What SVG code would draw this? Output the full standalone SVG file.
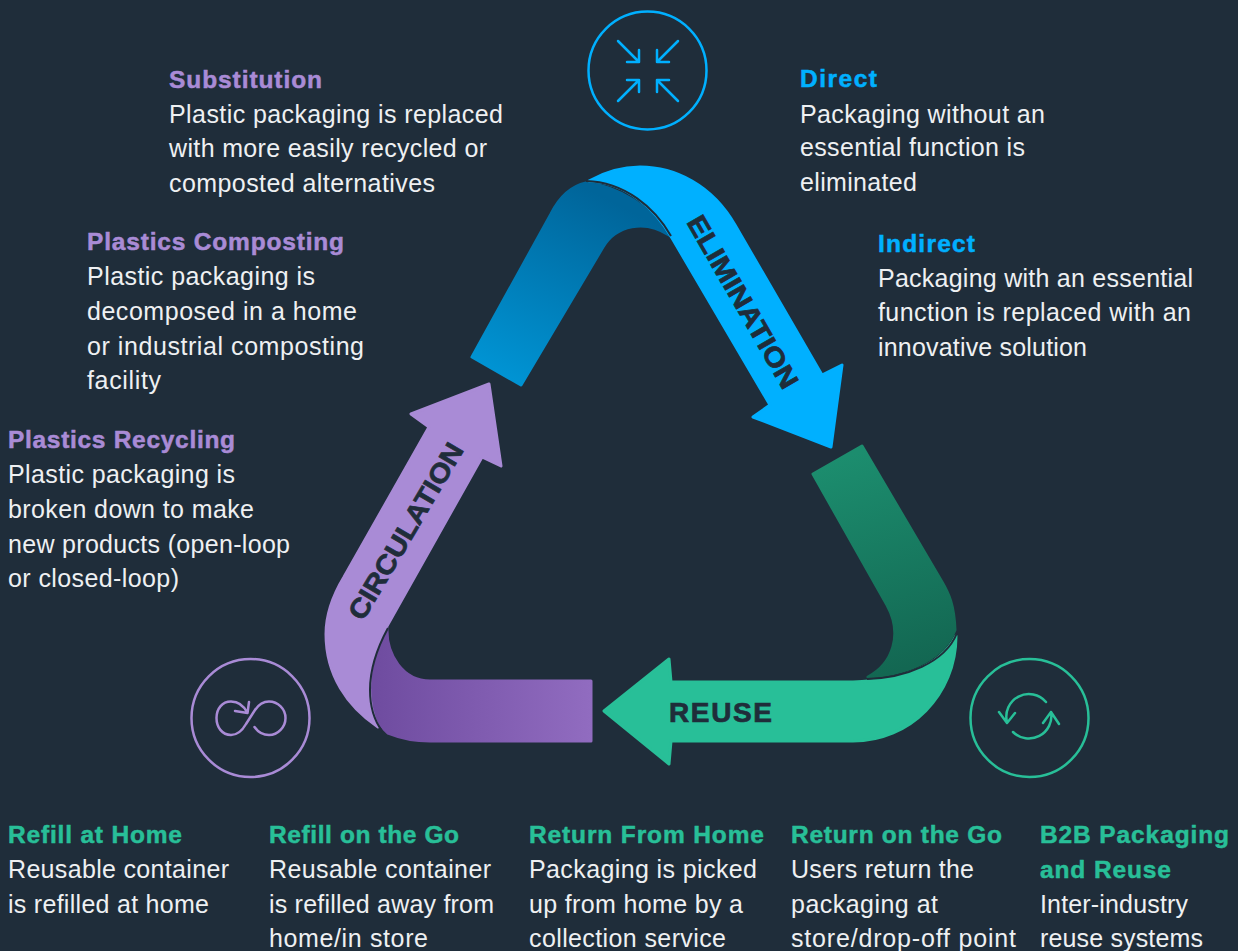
<svg xmlns="http://www.w3.org/2000/svg" width="1238" height="951" viewBox="0 0 1238 951">
<style>
.t{font-family:"Liberation Sans",Arial,sans-serif;font-size:25px;fill:#eef0f2}
.h{font-family:"Liberation Sans",Arial,sans-serif;font-size:24.500px;font-weight:700;stroke-width:.5px}
.p{fill:#a98bd6;stroke:#a98bd6}.b{fill:#00b0ff;stroke:#00b0ff}.g{fill:#28bf98;stroke:#28bf98}
.a{font-family:"Liberation Sans",Arial,sans-serif;font-size:27px;font-weight:700;fill:#1f2d3a;stroke:#1f2d3a;stroke-width:.7px}
.ic{fill:none;stroke-width:2.5;stroke-linecap:round;stroke-linejoin:round}
.ps{stroke:#a98bd6}.bs{stroke:#00b0ff}.gs{stroke:#28bf98}
.sh{stroke-width:3;stroke-linejoin:round}
.sep{fill:none;stroke:#1f2d3a;stroke-width:2}
</style>
<defs>
<linearGradient id="gb" gradientUnits="userSpaceOnUse" x1="590" y1="190" x2="495" y2="375"><stop offset="0" stop-color="#00659a"/><stop offset="1" stop-color="#0094d4"/></linearGradient>
<linearGradient id="gg" gradientUnits="userSpaceOnUse" x1="900" y1="670" x2="835" y2="460"><stop offset="0" stop-color="#136752"/><stop offset="1" stop-color="#1c8d6e"/></linearGradient>
<linearGradient id="gp" gradientUnits="userSpaceOnUse" x1="375" y1="710" x2="592" y2="710"><stop offset="0" stop-color="#6f4ca0"/><stop offset="1" stop-color="#916cc0"/></linearGradient>
</defs>
<rect width="1238" height="951" fill="#1f2d3a"/>
<g id="connectors">
<g id="elimination-arrow">
<path class="sh" fill="url(#gb)" stroke="url(#gb)" d="M586 183C577 185 562 192 551 214L472 357L521 385L603 247C616 225 645 219 669 235C650 208 622 187 586 183Z"/>
<path class="b sh" d="M589 181C605 172 622 167 640 167C675 167 712 185 735 225L822 375L842 365L831 447L753 417L770 405L672 238C655 208 625 182 589 181Z"/>
<path class="sep" d="M586 181C625 182 655 208 671 236"/>
</g>
<g id="reuse-arrow">
<path class="sh" fill="url(#gg)" stroke="url(#gg)" d="M862 446L813 474L887 605C903 634 893 664 868 677C915 674 945 655 955 630C954 605 949 594 942 582Z"/>
<path class="g sh" d="M956 636C956 695 910 741 853 741L671 741L669 764L604 711L669 659L671 682L853 682C900 681 940 667 956 636Z"/>
<path class="sep" d="M867 679C905 678 945 663 957 633"/>
</g>
<g id="circulation-arrow">
<path class="sh" fill="url(#gp)" stroke="url(#gp)" d="M387 628C386 655 403 681 430 681L591 681L591 741L430 741C412 741 398 737 388 733C375 722 370 703 371 688C373 665 379 645 387 628Z"/>
<path class="p sh" d="M489 384L411 414L429 427L344 577C332 597 326 615 326 634C326 675 347 706 378 727C370 710 367 690 372 665C375 650 381 638 387 626L482 457L501 466Z"/>
<path class="sep" d="M388 628C376 650 370 672 370 690C370 705 374 720 382 731"/>
</g>
</g>
<text class="a" transform="translate(686 222) rotate(60)" textLength="195" lengthAdjust="spacingAndGlyphs">ELIMINATION</text>
<text class="a" x="669" y="721.500" textLength="103" style="font-size:28px">REUSE</text>
<text class="a" transform="translate(363 622) rotate(-59.500)" textLength="200" lengthAdjust="spacingAndGlyphs">CIRCULATION</text>
<g id="icon-elimination">
<circle class="ic bs" cx="647.500" cy="70.500" r="59"/>
<path class="ic bs" d="M618 41L639 62M639 50V62H627M678 41L657 62M657 50V62H669M618 101L639 80M639 92V80H627M678 101L657 80M657 92V80H669"/>
</g>
<g id="icon-circulation">
<circle class="ic ps" cx="250.500" cy="718" r="59"/>
<path class="ic ps" d="M247.500 713C244 706 238 701.500 231 701.500C222 701.500 216.500 709 216.500 718C216.500 727 222 735 231 735C238 735 242 731 246 724L255 710C259 704 263 701.500 269 701.500C278 701.500 285.500 709 285.500 718C285.500 727 278 735 269 735C263 735 258 732 254.500 727M235 711L247.500 713L249 702"/>
</g>
<g id="icon-reuse">
<circle class="ic gs" cx="1029.500" cy="718" r="59"/>
<path class="ic gs" d="M1046 702A22.500 22.500 0 0 0 1007 722M999 712L1007 723L1015 713M1013 732A22.500 22.500 0 0 0 1051 712M1043 723L1051 712L1059 724"/>
</g>
<g id="text-substitution"><text class="h p" x="169" y="87.500" textLength="153">Substitution</text><text class="t" x="169" y="123" textLength="334">Plastic packaging is replaced</text><text class="t" x="169" y="157" textLength="318">with more easily recycled or</text><text class="t" x="169" y="192" textLength="266">composted alternatives</text></g>
<g id="text-composting"><text class="h p" x="87" y="250" textLength="257">Plastics Composting</text><text class="t" x="87" y="285" textLength="228">Plastic packaging is</text><text class="t" x="87" y="320" textLength="270">decomposed in a home</text><text class="t" x="87" y="355" textLength="277">or industrial composting</text><text class="t" x="87" y="389" textLength="74">facility</text></g>
<g id="text-recycling"><text class="h p" x="8" y="448" textLength="227">Plastics Recycling</text><text class="t" x="8" y="483" textLength="227">Plastic packaging is</text><text class="t" x="8" y="518" textLength="246">broken down to make</text><text class="t" x="8" y="553" textLength="282">new products (open-loop</text><text class="t" x="8" y="587" textLength="171">or closed-loop)</text></g>
<g id="text-direct"><text class="h b" x="800" y="87" textLength="77">Direct</text><text class="t" x="800" y="122.500" textLength="245">Packaging without an</text><text class="t" x="800" y="156" textLength="225">essential function is</text><text class="t" x="800" y="191" textLength="117">eliminated</text></g>
<g id="text-indirect"><text class="h b" x="878" y="252" textLength="97">Indirect</text><text class="t" x="878" y="286.500" textLength="315">Packaging with an essential</text><text class="t" x="878" y="321" textLength="313">function is replaced with an</text><text class="t" x="878" y="356" textLength="209">innovative solution</text></g>
<g id="text-refill-home"><text class="h g" x="8" y="843" textLength="174">Refill at Home</text><text class="t" x="8" y="878" textLength="221">Reusable container</text><text class="t" x="8" y="913" textLength="201">is refilled at home</text></g>
<g id="text-refill-go"><text class="h g" x="269" y="843" textLength="190">Refill on the Go</text><text class="t" x="269" y="878" textLength="222">Reusable container</text><text class="t" x="269" y="913" textLength="225">is refilled away from</text><text class="t" x="269" y="947" textLength="159">home/in store</text></g>
<g id="text-return-home"><text class="h g" x="529" y="843" textLength="235">Return From Home</text><text class="t" x="529" y="878" textLength="228">Packaging is picked</text><text class="t" x="529" y="913" textLength="214">up from home by a</text><text class="t" x="529" y="947" textLength="197">collection service</text></g>
<g id="text-return-go"><text class="h g" x="791" y="843" textLength="211">Return on the Go</text><text class="t" x="791" y="878" textLength="183">Users return the</text><text class="t" x="791" y="913" textLength="147">packaging at</text><text class="t" x="791" y="947" textLength="225">store/drop-off point</text></g>
<g id="text-b2b"><text class="h g" x="1040" y="843" textLength="189">B2B Packaging</text><text class="h g" x="1040" y="878" textLength="131">and Reuse</text><text class="t" x="1040" y="913" textLength="148">Inter-industry</text><text class="t" x="1040" y="947" textLength="163">reuse systems</text></g>
</svg>
